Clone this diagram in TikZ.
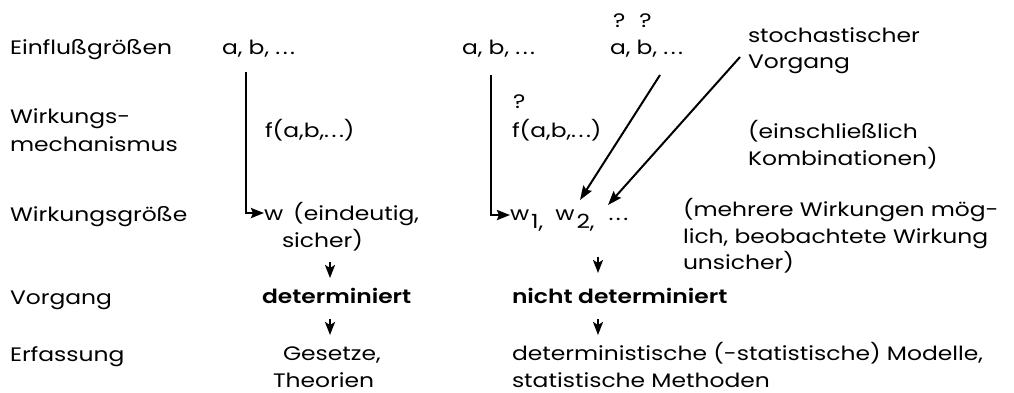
\documentclass[tikz,border=0pt]{standalone}
\usepackage{fontspec}
\setmainfont{Poppins}[FakeStretch=1.2, BoldFont={Poppins SemiBold}]
\usetikzlibrary{arrows.meta}
\newcommand{\dts}{.\hspace{2.5pt}.\hspace{2.5pt}.}
\newcommand{\lowered}[1]{\raisebox{-8pt}{#1}}
\begin{document}
\begin{tikzpicture}[x=1pt,y=-1pt,
 txt/.style={anchor=base west, inner sep=0pt, outer sep=0pt, font=\fontsize{19.5}{27}\selectfont},
 bld/.style={txt, font=\fontsize{19.5}{27}\selectfont\bfseries},
 link/.style={line width=2.4pt, -{Stealth[length=13pt,width=10pt,inset=2pt]}},
 diag/.style={line width=2pt, -{Stealth[length=14pt,width=10pt,inset=2pt]}},
 tick/.style={line width=2.2pt, -{Stealth[length=13pt,width=10pt,inset=3pt]}}]
\useasboundingbox[fill=white] (0,0) rectangle (1014,392);
% left labels
\node[txt] (l1) at (10,54) {Einflußgrößen};
\node[txt] (l2a) at (10,123) {Wirkungs-};
\node[txt] (l2b) at (10,151) {mechanismus};
\node[txt] (l3) at (10,221) {Wirkungsgröße};
\node[txt] (l4) at (10,304) {Vorgang};
\node[txt] (l5) at (10,361) {Erfassung};
% deterministic column
\node[txt] (ab1) at (222,54) {a, b, \dts};
\node[txt] (f1) at (265,137) {f(a,b,\dts)};
\node[txt] (w) at (264,220) {w\hspace{10pt}(eindeutig,};
\node[txt] (sicher) at (282,247) {sicher)};
\node[bld] (det) at (262,303) {determiniert};
\node[txt] (ges) at (283,360) {Gesetze,};
\node[txt] (theo) at (273,387) {Theorien};
% non-deterministic column
\node[txt] (ab2) at (462,54) {a, b, \dts};
\node[txt] (q1) at (513,108) {?};
\node[txt] (f2) at (512,137) {f(a,b,\dts)};
\node[txt] (ww) at (510,220) {w\hspace{2pt}\lowered{1,}\hspace{12pt}w\hspace{2pt}\lowered{2,}\hspace{14pt}\dts};
\node[bld] (ndet) at (512,303) {nicht determiniert};
\node[txt] (dm) at (512,360) {deterministische (-statistische) Modelle,};
\node[txt] (sm) at (512,387) {statistische Methoden};
% stochastic
\node[txt] (qq) at (613,27) {?\hspace{14pt}?};
\node[txt] (ab3) at (610,54) {a, b, \dts};
\node[txt] (st1) at (748,42) {stochastischer};
\node[txt] (st2) at (748,68) {Vorgang};
\node[txt] (ein1) at (748,138) {(einschließlich};
\node[txt] (ein2) at (748,165) {Kombinationen)};
\node[txt] (meh1) at (683,216) {(mehrere Wirkungen mög-};
\node[txt] (meh2) at (683,243) {lich, beobachtete Wirkung};
\node[txt] (meh3) at (683,269) {unsicher)};
% connectors
\coordinate (v1) at (246,72);
\coordinate (v2) at (491,75);
\draw[link] (v1) |- ([yshift=7pt]w.base west);
\draw[link] (v2) |- ([yshift=5pt]ww.base west);
\coordinate (d1s) at (660,75);
\coordinate (d1e) at (580,200);
\coordinate (d2s) at (740,57);
\coordinate (d2e) at (608,205);
\draw[diag] (d1s) -- (d1e);
\draw[diag] (d2s) -- (d2e);
\coordinate (t1a) at (330,262); \coordinate (t1b) at (330,278);
\coordinate (t2a) at (330,319); \coordinate (t2b) at (330,335);
\coordinate (t3a) at (598,257); \coordinate (t3b) at (598,273);
\coordinate (t4a) at (598,319); \coordinate (t4b) at (598,335);
\draw[tick] (t1a) -- (t1b);
\draw[tick] (t2a) -- (t2b);
\draw[tick] (t3a) -- (t3b);
\draw[tick] (t4a) -- (t4b);
\end{tikzpicture}
\end{document}
